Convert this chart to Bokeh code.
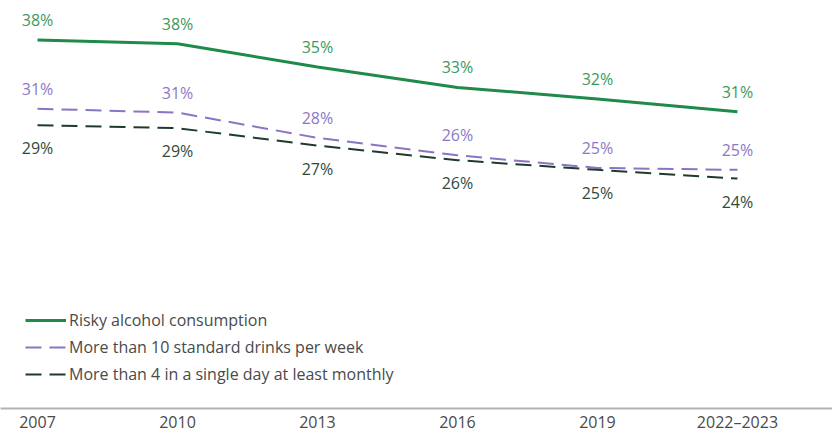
from bokeh.plotting import figure
from bokeh.models import Range1d, FixedTicker, Legend, LegendItem, ColumnDataSource
from bokeh.core.properties import value
from bokeh.embed import file_html
from bokeh.resources import INLINE

years = ["2007", "2010", "2013", "2016", "2019", "2022\u20132023"]
risky = [38.0, 37.6, 35.2, 33.1, 31.9, 30.6]
risky_labels = ["38%", "38%", "35%", "33%", "32%", "31%"]
weekly = [30.9, 30.5, 27.9, 26.1, 24.8, 24.6]
weekly_labels = ["31%", "31%", "28%", "26%", "25%", "25%"]
single_day = [29.2, 28.9, 27.1, 25.6, 24.6, 23.7]
single_day_labels = ["29%", "29%", "27%", "26%", "25%", "24%"]
series_names = ["Risky alcohol consumption",
                "More than 10 standard drinks per week",
                "More than 4 in a single day at least monthly"]

FONT = "Open Sans"
GREEN = "#1f8a4a"
GREEN_T = "#3a9a5e"
PURPLE = "#8a74c6"
PURPLE_T = "#8b78c8"
DARK = "#1e3b2c"
DARK_T = "#2f4a3c"

x = list(range(len(years)))

p = figure(width=832, height=435, output_backend="svg", toolbar_location=None,
           x_range=Range1d(-0.2643, 5.679), y_range=Range1d(0, 42.06),
           min_border_left=0, min_border_right=0, min_border_top=0, min_border_bottom=0)
p.outline_line_color = None
p.xgrid.grid_line_color = None
p.ygrid.grid_line_color = None
p.yaxis.visible = False

ax = p.xaxis[0]
ax.ticker = FixedTicker(ticks=x)
ax.major_label_overrides = {i: y for i, y in enumerate(years)}
ax.axis_line_color = "#b3b3b3"
ax.axis_line_width = 2
ax.major_tick_line_color = None
ax.minor_tick_line_color = None
ax.major_tick_out = 0
ax.major_tick_in = 0
ax.major_label_standoff = 2
ax.major_label_text_font = FONT
ax.major_label_text_font_size = "16px"
ax.major_label_text_color = "#4a4a4a"

r1 = p.line(x, risky, line_color=GREEN, line_width=3)
r2 = p.line(x, weekly, line_color=PURPLE, line_width=2, line_dash="16 8")
r3 = p.line(x, single_day, line_color=DARK, line_width=2, line_dash="16 8")

def labels(vals, texts, color, offset):
    src = ColumnDataSource(dict(x=x, y=vals, t=texts))
    p.text("x", "y", text="t", source=src, text_font=value(FONT),
           text_font_size="16px", text_color=color, text_align="center",
           text_baseline="middle", y_offset=offset)

labels(risky, risky_labels, GREEN_T, -20)
labels(weekly, weekly_labels, PURPLE_T, -20)
labels(single_day, single_day_labels, DARK_T, 23)

legend = Legend(items=[LegendItem(label=series_names[0], renderers=[r1]),
                       LegendItem(label=series_names[1], renderers=[r2]),
                       LegendItem(label=series_names[2], renderers=[r3])],
                location=(25, 23), orientation="vertical",
                glyph_width=41, glyph_height=20, label_height=20,
                label_standoff=3, spacing=5, padding=0, margin=0,
                border_line_color=None, background_fill_alpha=0,
                label_text_font=FONT, label_text_font_size="16px",
                label_text_color="#4a4a4a")
p.add_layout(legend, "center")

open("out.html", "w").write(file_html(p, INLINE))
